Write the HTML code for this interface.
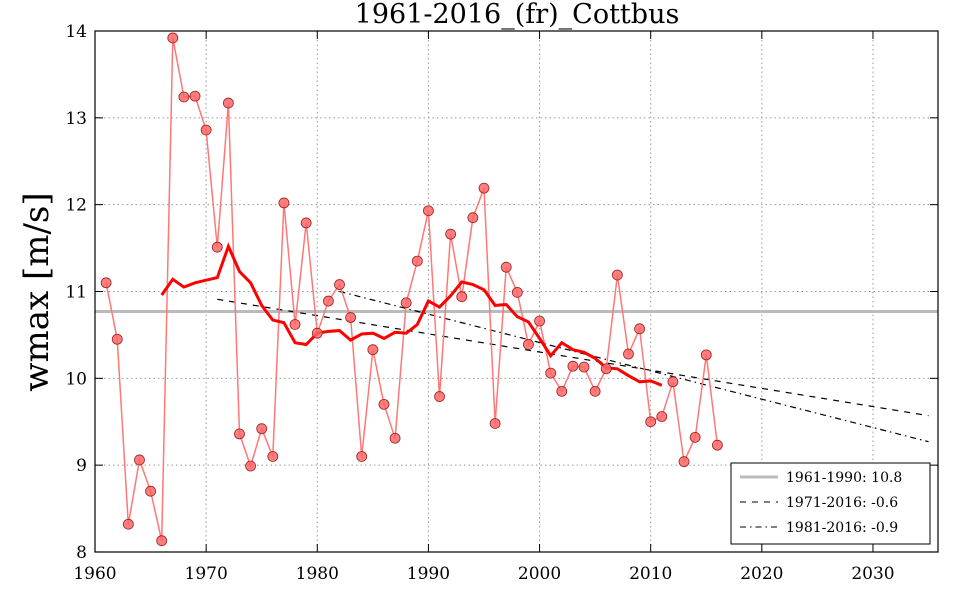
<!DOCTYPE html>
<html><head><meta charset="utf-8"><style>
body{margin:0;background:#fff;}
svg text{font-family:"DejaVu Serif","Liberation Serif",serif;}
</style></head><body>
<svg id="s" width="960" height="600" xmlns="http://www.w3.org/2000/svg"></svg>
<script>
const s=document.getElementById('s');
const X=y=>95+(y-1960)*11.114, Y=v=>31+(14-v)*86.83;
let h='';
h+='<rect x="95" y="31" width="843" height="521" fill="#fff"/>';
for(let i=0;i<=7;i++){const x=X(1960+10*i);h+=`<line x1="${x}" y1="31" x2="${x}" y2="552" stroke="#999" stroke-dasharray="1.5,3"/>`;h+=`<text x="${x}" y="579" font-size="17" text-anchor="middle">${1960+10*i}</text>`;h+=`<line x1="${x}" y1="552" x2="${x}" y2="544" stroke="#000"/><line x1="${x}" y1="31" x2="${x}" y2="39" stroke="#000"/>`;}
for(let v=8;v<=14;v++){const y=Y(v);h+=`<line x1="95" y1="${y}" x2="938" y2="${y}" stroke="#999" stroke-dasharray="1.5,3"/>`;h+=`<text x="87" y="${y+6}" font-size="17" text-anchor="end">${v}</text>`;h+=`<line x1="95" y1="${y}" x2="103" y2="${y}" stroke="#000"/><line x1="930" y1="${y}" x2="938" y2="${y}" stroke="#000"/>`;}
h+=`<line x1="95" y1="${Y(10.77)}" x2="938" y2="${Y(10.77)}" stroke="#bbb" stroke-width="3"/>`;
h+=`<line x1="${X(1971)}" y1="${Y(10.91)}" x2="${X(2035)}" y2="${Y(9.57)}" stroke="#000" stroke-width="1.2" stroke-dasharray="6,6"/>`;
h+=`<line x1="${X(1982)}" y1="${Y(11.0)}" x2="${X(2035)}" y2="${Y(9.27)}" stroke="#000" stroke-width="1.2" stroke-dasharray="6,4,1.5,4"/>`;
const d=[11.1,10.45,8.32,9.06,8.7,8.13,13.92,13.24,13.25,12.86,11.51,13.17,9.36,8.99,9.42,9.1,12.02,10.62,11.79,10.52,10.89,11.08,10.70,9.10,10.33,9.70,9.31,10.87,11.35,11.93,9.79,11.66,10.94,11.85,12.19,9.48,11.28,10.99,10.39,10.66,10.06,9.85,10.14,10.13,9.85,10.11,11.19,10.28,10.57,9.50,9.56,9.96,9.04,9.32,10.27,9.23];
let p=d.map((v,i)=>X(1961+i).toFixed(1)+','+Y(v).toFixed(1)).join(' ');
h+=`<polyline points="${p}" fill="none" stroke="#f77" stroke-width="1.5"/>`;
const m=[10.96,11.14,11.05,11.1,11.13,11.16,11.52,11.23,11.1,10.84,10.67,10.64,10.41,10.39,10.52,10.54,10.55,10.44,10.51,10.52,10.46,10.53,10.52,10.62,10.89,10.82,10.95,11.11,11.08,11.02,10.84,10.85,10.71,10.65,10.46,10.26,10.41,10.33,10.30,10.23,10.12,10.11,10.03,9.96,9.97,9.92];
h+=`<polyline points="${m.map((v,i)=>X(1966+i).toFixed(1)+','+Y(v).toFixed(1)).join(' ')}" fill="none" stroke="#f00" stroke-width="3"/>`;
d.forEach((v,i)=>{h+=`<circle cx="${X(1961+i)}" cy="${Y(v)}" r="5" fill="#f66" fill-opacity="0.85" stroke="#922" stroke-width="0.8"/>`;});
h+='<rect x="95" y="31" width="843" height="521" fill="none" stroke="#000" stroke-width="1.2"/>';
h+='<text x="517" y="23" font-size="27" text-anchor="middle">1961-2016_(fr)_Cottbus</text>';
h+='<text transform="translate(48,292) rotate(-90)" font-size="34" text-anchor="middle">wmax [m/s]</text>';
h+='<rect x="731" y="463" width="199" height="81" fill="#fff" stroke="#000"/>';
h+='<line x1="740" y1="477" x2="778" y2="477" stroke="#bbb" stroke-width="3"/><text x="786" y="482" font-size="14">1961-1990: 10.8</text>';
h+='<line x1="740" y1="502" x2="778" y2="502" stroke="#000" stroke-dasharray="6,6"/><text x="786" y="507" font-size="14">1971-2016: -0.6</text>';
h+='<line x1="740" y1="527" x2="778" y2="527" stroke="#000" stroke-dasharray="6,4,1.5,4"/><text x="786" y="532" font-size="14">1981-2016: -0.9</text>';
s.innerHTML=h;
</script>
</body></html>
